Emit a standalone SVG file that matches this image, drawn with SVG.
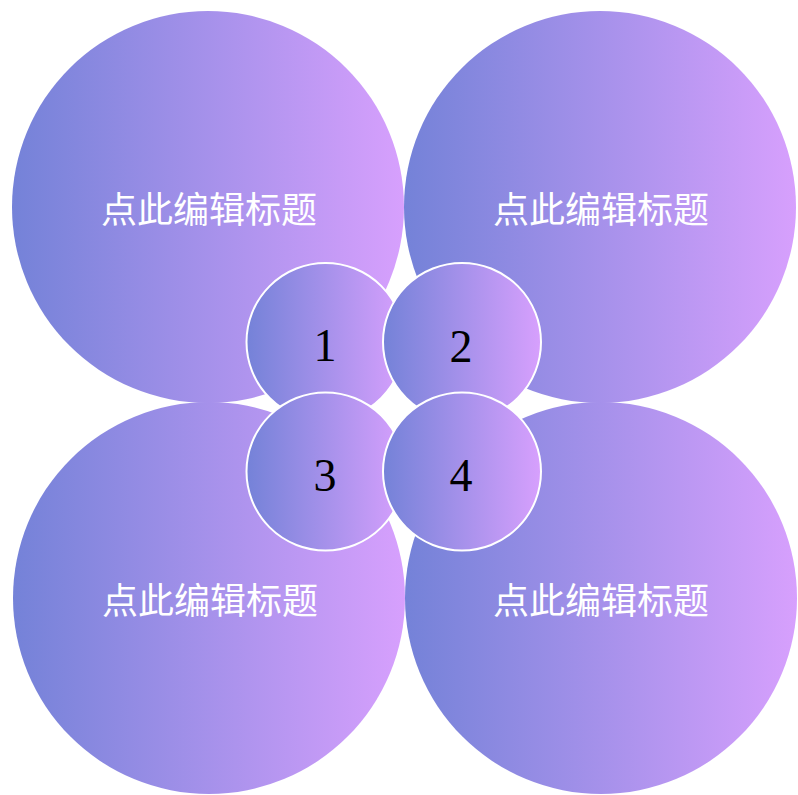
<svg xmlns="http://www.w3.org/2000/svg" width="798" height="795" viewBox="0 0 798 795">
<defs>
<linearGradient id="g" x1="0" y1="0" x2="1" y2="0">
<stop offset="0" stop-color="#7482d8"/>
<stop offset="1" stop-color="#d7a0fd"/>
</linearGradient>
<style>
.big{fill:url(#g);}
.small{fill:url(#g);stroke:#fff;stroke-width:2;}
.t{fill:#fff;font-family:"Noto Sans CJK SC","Noto Sans CJK JP",sans-serif;font-size:36px;text-anchor:middle;}
.n{fill:#000;font-family:"Liberation Serif","DejaVu Serif",serif;font-size:46px;text-anchor:middle;}
</style>
</defs>
<rect width="798" height="795" fill="#fff"/>
<g id="big1"><circle class="big" cx="208" cy="207" r="196"/><text class="t" x="209" y="223">点此编辑标题</text></g>
<g id="big2"><circle class="big" cx="600" cy="207" r="196"/><text class="t" x="601" y="223">点此编辑标题</text></g>
<g id="big3"><circle class="big" cx="209" cy="598" r="196"/><text class="t" x="210" y="614">点此编辑标题</text></g>
<g id="big4"><circle class="big" cx="601" cy="598" r="196"/><text class="t" x="601" y="614">点此编辑标题</text></g>
<g id="s1"><circle class="small" cx="325.5" cy="342" r="79"/><text class="n" x="325" y="361">1</text></g>
<g id="s2"><circle class="small" cx="462" cy="342" r="79"/><text class="n" x="461" y="362">2</text></g>
<g id="s3"><circle class="small" cx="325.5" cy="471.5" r="79"/><text class="n" x="325" y="491">3</text></g>
<g id="s4"><circle class="small" cx="462" cy="471.5" r="79"/><text class="n" x="461" y="491">4</text></g>
<g id="connectors"></g>
</svg>
